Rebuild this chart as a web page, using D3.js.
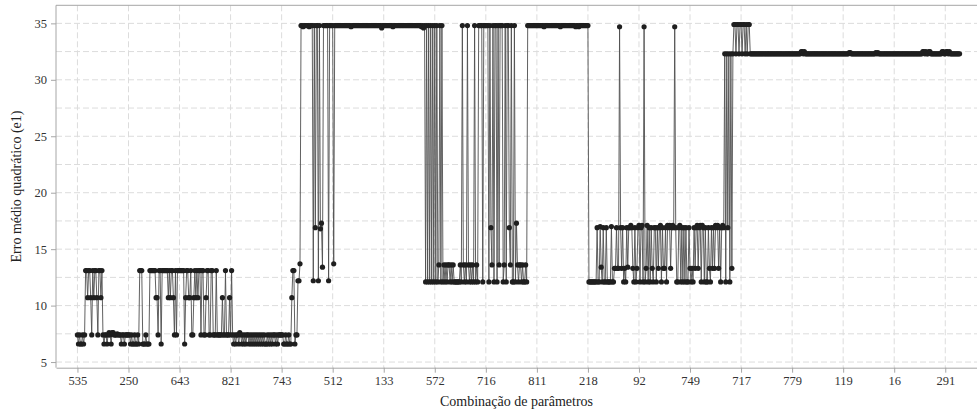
<!DOCTYPE html>
<html>
<head>
<meta charset="utf-8">
<script src="https://cdn.jsdelivr.net/npm/d3@7"></script>
<style>
  body { margin: 0; background: #fff; }
  svg { display: block; font-family: 'Liberation Serif', 'Times New Roman', serif; }
</style>
</head>
<body>
<svg id="chart" width="977" height="416"></svg>
<script>
// tick labels on the x axis, one every 50 combinations
const tickLabels = ['535', '250', '643', '821', '743', '512', '133', '572', '716',
  '811', '218', '92', '749', '717', '779', '119', '16', '291']
const tickStep = 50
const yTicks = [5, 10, 15, 20, 25, 30, 35]

// erro medio quadratico (e1), one value per combination
const erro = [
  7.4, 6.6, 7.4, 6.6, 6.6, 7.4, 6.6, 7.4, 13.1, 13.1, 10.7, 13.1, 13.1, 10.7, 7.4, 13.1, 10.7, 13.1, 13.1, 10.7, 7.4, 13.1, 13.1, 10.7, 13.1,
  7.4, 6.6, 7.4, 7.4, 6.6, 7.4, 7.6, 7.4, 6.6, 7.6, 7.6, 7.4, 7.4, 7.4, 7.5, 7.4, 7.4, 7.4, 6.6, 7.4, 7.4, 6.6, 7.4, 7.4, 7.4,
  7.4, 7.4, 6.6, 7.4, 6.6, 6.6, 7.4, 6.6, 6.6, 7.4, 6.6, 13.1, 13.1, 13.1, 6.6, 6.6, 6.6, 7.4, 6.6, 6.6, 6.6, 13.1, 13.1, 13.1, 13.1,
  13.1, 13.1, 10.7, 10.7, 7.4, 13.1, 13.1, 6.6, 13.1, 13.1, 13.1, 13.1, 13.1, 13.1, 10.7, 13.1, 10.7, 13.1, 13.1, 10.7, 7.4, 13.1, 7.4, 13.1, 13.1,
  13.1, 13.1, 13.1, 13.1, 13.1, 6.6, 10.7, 13.1, 13.1, 10.7, 10.7, 13.1, 7.4, 7.4, 10.7, 13.1, 10.7, 13.1, 10.7, 13.1, 13.1, 7.4, 13.1, 13.1, 7.4,
  7.4, 10.7, 13.1, 13.1, 7.4, 7.4, 13.1, 13.1, 7.4, 7.4, 7.4, 13.1, 7.4, 7.4, 7.4, 7.4, 7.4, 10.7, 7.4, 7.4, 13.1, 7.4, 7.4, 7.4, 10.7,
  7.4, 13.1, 7.4, 6.6, 7.4, 6.6, 7.4, 7.4, 6.6, 7.6, 7.4, 6.6, 7.4, 6.6, 7.4, 6.6, 7.4, 7.4, 6.6, 7.4, 6.6, 7.4, 6.6, 7.4, 6.6,
  7.4, 6.6, 7.4, 6.6, 7.4, 6.6, 7.4, 6.6, 7.4, 6.6, 6.6, 7.4, 6.6, 7.4, 6.6, 7.4, 6.6, 7.4, 7.4, 6.6, 7.4, 6.6, 7.4, 7.4, 7.4,
  7.4, 7.4, 6.6, 6.6, 7.4, 6.6, 6.6, 7.4, 6.6, 6.6, 10.7, 13.1, 13.1, 6.6, 7.4, 7.4, 12.2, 12.2, 13.7, 34.8, 34.8, 34.7, 34.8, 34.8, 34.8,
  34.8, 34.8, 34.7, 34.8, 34.8, 34.8, 12.2, 34.8, 16.9, 34.8, 34.8, 12.2, 34.8, 16.8, 17.3, 13.4, 34.8, 34.8, 34.8, 34.8, 34.8, 12.2, 34.8, 34.8, 34.8,
  34.8, 13.7, 34.8, 34.8, 34.8, 34.8, 34.8, 34.8, 34.8, 34.8, 34.8, 34.8, 34.8, 34.8, 34.8, 34.8, 34.8, 34.8, 34.7, 34.8, 34.8, 34.8, 34.8, 34.8, 34.8,
  34.8, 34.8, 34.8, 34.8, 34.8, 34.8, 34.8, 34.8, 34.8, 34.8, 34.8, 34.8, 34.8, 34.8, 34.8, 34.8, 34.8, 34.8, 34.8, 34.8, 34.8, 34.8, 34.8, 34.6, 34.8,
  34.8, 34.8, 34.8, 34.8, 34.8, 34.8, 34.8, 34.8, 34.8, 34.7, 34.8, 34.8, 34.8, 34.8, 34.8, 34.8, 34.8, 34.8, 34.8, 34.8, 34.8, 34.8, 34.8, 34.8, 34.8,
  34.8, 34.8, 34.8, 34.8, 34.8, 34.8, 34.8, 34.8, 34.8, 34.8, 34.8, 34.8, 34.7, 34.8, 34.6, 34.8, 12.1, 34.8, 12.1, 34.8, 12.1, 34.8, 12.1, 34.8, 12.1,
  34.8, 12.1, 34.8, 12.1, 13.6, 34.8, 12.1, 34.8, 12.1, 13.6, 12.1, 13.6, 12.1, 13.6, 13.6, 12.1, 13.6, 12.1, 13.6, 12.1, 12.1, 12.1, 12.1, 12.1, 12.1,
  13.6, 12.1, 34.8, 13.6, 12.1, 13.6, 12.1, 34.8, 13.6, 12.1, 13.6, 12.1, 13.6, 12.1, 34.8, 12.1, 13.6, 12.1, 34.8, 34.8, 34.8, 34.8, 12.1, 34.8, 34.8,
  34.8, 34.8, 34.8, 12.1, 34.8, 16.9, 13.6, 34.8, 12.1, 34.8, 34.8, 12.1, 34.8, 13.6, 34.8, 34.8, 34.8, 12.1, 13.6, 34.8, 12.1, 34.8, 34.8, 16.9, 13.6,
  34.8, 12.1, 12.1, 34.8, 12.1, 17.3, 13.6, 12.1, 13.6, 13.6, 12.1, 13.6, 12.1, 12.1, 13.6, 12.1, 34.8, 34.8, 34.8, 34.8, 34.8, 34.8, 34.8, 34.8, 34.8,
  34.8, 34.8, 34.8, 34.8, 34.8, 34.8, 34.8, 34.7, 34.8, 34.8, 34.8, 34.8, 34.8, 34.8, 34.8, 34.8, 34.8, 34.8, 34.8, 34.8, 34.8, 34.8, 34.8, 34.7, 34.8,
  34.8, 34.8, 34.8, 34.8, 34.8, 34.8, 34.8, 34.8, 34.8, 34.8, 34.8, 34.8, 34.8, 34.7, 34.8, 34.8, 34.7, 34.8, 34.8, 34.8, 34.8, 34.8, 34.8, 34.8, 34.8,
  34.8, 12.1, 12.1, 12.1, 12.1, 12.1, 12.1, 12.1, 12.1, 16.9, 12.1, 12.1, 17.0, 13.4, 12.1, 16.9, 12.1, 12.1, 16.9, 12.1, 12.1, 12.1, 12.1, 17.0, 12.1,
  12.1, 13.3, 13.3, 16.9, 13.3, 13.3, 34.7, 16.9, 13.3, 16.9, 12.1, 13.3, 12.1, 16.9, 13.4, 16.9, 16.9, 17.1, 16.9, 13.3, 12.1, 16.9, 12.1, 13.3, 16.9,
  17.1, 12.1, 16.9, 17.1, 12.1, 34.7, 12.1, 13.3, 17.1, 12.1, 16.9, 12.1, 16.9, 13.3, 12.1, 16.9, 16.9, 12.1, 16.9, 13.3, 16.9, 17.1, 12.1, 16.9, 13.3,
  13.3, 16.9, 12.1, 17.1, 16.9, 17.1, 13.3, 16.9, 17.1, 16.9, 34.7, 16.9, 12.1, 12.1, 16.9, 17.1, 12.1, 16.9, 12.1, 16.9, 12.1, 16.9, 12.1, 12.1, 16.9,
  13.3, 12.1, 13.3, 12.1, 16.9, 13.3, 16.9, 17.1, 13.3, 16.9, 17.1, 12.1, 17.1, 16.9, 12.1, 16.9, 12.1, 12.1, 16.9, 13.3, 12.1, 16.9, 13.3, 16.9, 13.3,
  17.1, 16.9, 17.1, 13.3, 16.9, 12.1, 16.9, 17.1, 16.9, 32.3, 12.1, 32.3, 16.9, 32.3, 12.1, 32.3, 13.3, 32.3, 34.9, 34.9, 32.3, 34.9, 34.9, 32.3, 34.9,
  34.9, 32.3, 34.9, 34.9, 32.3, 34.9, 32.3, 34.9, 34.9, 32.3, 32.3, 32.3, 32.3, 32.3, 32.3, 32.3, 32.3, 32.3, 32.3, 32.3, 32.3, 32.3, 32.3, 32.3, 32.3,
  32.3, 32.3, 32.3, 32.3, 32.3, 32.3, 32.3, 32.3, 32.3, 32.3, 32.3, 32.3, 32.3, 32.3, 32.3, 32.3, 32.3, 32.3, 32.3, 32.3, 32.3, 32.3, 32.3, 32.3, 32.3,
  32.3, 32.3, 32.3, 32.3, 32.3, 32.3, 32.3, 32.3, 32.3, 32.5, 32.5, 32.3, 32.5, 32.3, 32.3, 32.3, 32.3, 32.3, 32.3, 32.3, 32.3, 32.3, 32.3, 32.3, 32.3,
  32.3, 32.3, 32.3, 32.3, 32.3, 32.3, 32.3, 32.3, 32.3, 32.3, 32.3, 32.3, 32.3, 32.3, 32.3, 32.3, 32.3, 32.3, 32.3, 32.3, 32.3, 32.3, 32.3, 32.3, 32.3,
  32.3, 32.3, 32.3, 32.3, 32.3, 32.3, 32.4, 32.4, 32.3, 32.3, 32.3, 32.3, 32.3, 32.3, 32.3, 32.3, 32.3, 32.3, 32.3, 32.3, 32.3, 32.3, 32.3, 32.3, 32.3,
  32.3, 32.3, 32.3, 32.3, 32.3, 32.3, 32.3, 32.4, 32.3, 32.4, 32.3, 32.3, 32.3, 32.3, 32.3, 32.3, 32.3, 32.3, 32.3, 32.3, 32.3, 32.3, 32.3, 32.3, 32.3,
  32.3, 32.3, 32.3, 32.3, 32.3, 32.3, 32.3, 32.3, 32.3, 32.3, 32.3, 32.3, 32.3, 32.3, 32.3, 32.3, 32.3, 32.3, 32.3, 32.3, 32.3, 32.3, 32.3, 32.3, 32.3,
  32.3, 32.3, 32.3, 32.5, 32.5, 32.3, 32.5, 32.3, 32.3, 32.5, 32.5, 32.3, 32.3, 32.3, 32.3, 32.3, 32.3, 32.3, 32.3, 32.3, 32.3, 32.3, 32.5, 32.5, 32.3,
  32.3, 32.5, 32.5, 32.3, 32.5, 32.3, 32.3, 32.3, 32.3, 32.3, 32.3, 32.3, 32.3, 32.3, 32.3
]

const svg = d3.select('#chart')
const width = +svg.attr('width')
const plot = { left: 56, top: 5.3, right: 981, bottom: 367.7 }

const xScale = d3.scaleLinear()
  .domain([-21, erro.length - 1 + 21])
  .range([plot.left, plot.right])

const yScale = d3.scaleLinear()
  .domain([4.5, 36.6])
  .range([plot.bottom, plot.top])

const tickIndex = tickLabels.map((d, i) => i * tickStep)

// Grid
const grid = svg.append('g')
  .attr('stroke', '#dcdcdc')
  .attr('stroke-width', 1)
  .attr('stroke-dasharray', '6,3')

grid.selectAll('.hgrid')
  .data(d3.range(5, 35.1, 2.5))
  .join('line')
  .attr('x1', plot.left)
  .attr('x2', width)
  .attr('y1', d => yScale(d))
  .attr('y2', d => yScale(d))

grid.selectAll('.vgrid')
  .data(tickIndex)
  .join('line')
  .attr('x1', d => xScale(d))
  .attr('x2', d => xScale(d))
  .attr('y1', plot.top)
  .attr('y2', plot.bottom)

// Frame (top edge)
svg.append('line')
  .attr('x1', plot.left)
  .attr('x2', width)
  .attr('y1', plot.top)
  .attr('y2', plot.top)
  .attr('stroke', '#a6a6a6')

// Axes
const xAxis = svg.append('g')
  .attr('transform', `translate(0,${plot.bottom})`)
  .call(d3.axisBottom(xScale)
    .tickValues(tickIndex)
    .tickFormat((d, i) => tickLabels[i])
    .tickSize(5)
    .tickSizeOuter(0)
    .tickPadding(3))

const yAxis = svg.append('g')
  .attr('transform', `translate(${plot.left},0)`)
  .call(d3.axisLeft(yScale)
    .tickValues(yTicks)
    .tickSize(5)
    .tickSizeOuter(0)
    .tickPadding(4))

;[xAxis, yAxis].forEach(ax => {
  ax.select('.domain').attr('stroke', '#a6a6a6')
  ax.selectAll('.tick line').attr('stroke', '#a6a6a6')
  ax.selectAll('.tick text')
    .attr('fill', '#333')
    .style('font-family', "'Liberation Serif', serif")
    .style('font-size', '12.5px')
})
yAxis.select('.domain').attr('d', `M0,${plot.top}V${plot.bottom}`)

// Series line + points
const line = d3.line()
  .x((d, i) => xScale(i))
  .y(d => yScale(d))

svg.append('path')
  .datum(erro)
  .attr('fill', 'none')
  .attr('stroke', '#4f4f4f')
  .attr('stroke-width', 0.9)
  .attr('d', line)

svg.append('g')
  .selectAll('circle')
  .data(erro)
  .join('circle')
  .attr('cx', (d, i) => xScale(i))
  .attr('cy', d => yScale(d))
  .attr('r', 2.6)
  .attr('fill', '#1f1f1f')

// Axis titles
svg.append('text')
  .attr('x', (plot.left + width) / 2)
  .attr('y', 406)
  .attr('text-anchor', 'middle')
  .attr('fill', '#222')
  .style('font-size', '14px')
  .text('Combinação de parâmetros')

svg.append('text')
  .attr('transform', `translate(21,${(plot.top + plot.bottom) / 2}) rotate(-90)`)
  .attr('text-anchor', 'middle')
  .attr('fill', '#222')
  .style('font-size', '14px')
  .text('Erro médio quadrático (e1)')
</script>
</body>
</html>
